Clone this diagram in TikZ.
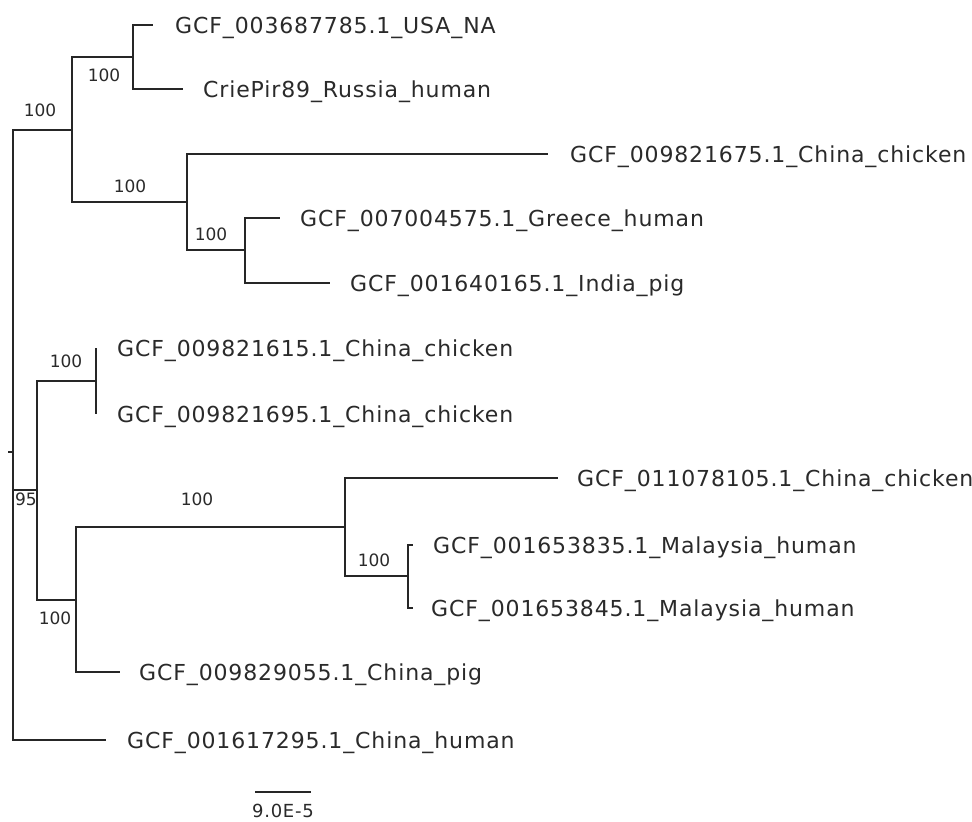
\documentclass[tikz,border=0pt]{standalone}
\usepackage{fontspec}
\setmainfont{DejaVu Sans}
\newfontfamily\taxfont{DejaVu Sans}[LetterSpace=4]
\usetikzlibrary{positioning}
\definecolor{labelgray}{HTML}{2A2A2A}

\begin{document}
\begin{tikzpicture}[
  x=1pt, y=-1pt,
  br/.style={line width=1.5pt, black!85},
  taxon/.style={inner sep=0pt, font=\taxfont\fontsize{22}{26}\selectfont, text=labelgray, yshift=-8pt},
  boot/.style={inner sep=0pt, font=\fontsize{17}{19}\selectfont, text=labelgray},
  scalelbl/.style={inner sep=0pt, font=\taxfont\fontsize{18}{20}\selectfont, text=labelgray}
]
  \fill[white] (0,0) rectangle (972,822);
  \useasboundingbox (0,0) rectangle (972,822);

  % internal nodes
  \coordinate (rt) at (8,452);
  \coordinate (r) at (13,452);
  \coordinate (nA) at (72,130);
  \coordinate (nA1) at (133,57);
  \coordinate (nA2) at (187,202);
  \coordinate (nA2b) at (245,250);
  \coordinate (nB) at (37,490);
  \coordinate (nB1) at (96,381);
  \coordinate (nB2) at (76,600);
  \coordinate (nB2a) at (345,527);
  \coordinate (nB2a2) at (408,576);

  % leaf ends
  \coordinate (l1) at (153,25);
  \coordinate (l2) at (183,89);
  \coordinate (l3) at (548,154);
  \coordinate (l4) at (280,218);
  \coordinate (l5) at (330,283);
  \coordinate (l6) at (96,348);
  \coordinate (l7) at (96,414);
  \coordinate (l8) at (558,478);
  \coordinate (l9) at (413,545);
  \coordinate (l10) at (413,608);
  \coordinate (l11) at (120,672);
  \coordinate (l12) at (106,740);

  % branches
  \draw[br] (rt) -- (r);
  \draw[br] (r) |- (nA);
  \draw[br] (r) |- (nB);
  \draw[br] (r) |- (l12);
  \draw[br] (nA) |- (nA1);
  \draw[br] (nA) |- (nA2);
  \draw[br] (nA1) |- (l1);
  \draw[br] (nA1) |- (l2);
  \draw[br] (nA2) |- (l3);
  \draw[br] (nA2) |- (nA2b);
  \draw[br] (nA2b) |- (l4);
  \draw[br] (nA2b) |- (l5);
  \draw[br] (nB) |- (nB1);
  \draw[br] (nB) |- (nB2);
  \draw[br] (nB1) |- (l6);
  \draw[br] (nB1) |- (l7);
  \draw[br] (nB2) |- (nB2a);
  \draw[br] (nB2) |- (l11);
  \draw[br] (nB2a) |- (l8);
  \draw[br] (nB2a) |- (nB2a2);
  \draw[br] (nB2a2) |- (l9);
  \draw[br] (nB2a2) |- (l10);

  % taxa
  \node[taxon, base right=22pt of l1] (t1) {GCF\_003687785.1\_USA\_NA};
  \node[taxon, base right=20pt of l2] (t2) {CriePir89\_Russia\_human};
  \node[taxon, base right=22pt of l3] (t3) {GCF\_009821675.1\_China\_chicken};
  \node[taxon, base right=20pt of l4] (t4) {GCF\_007004575.1\_Greece\_human};
  \node[taxon, base right=20pt of l5] (t5) {GCF\_001640165.1\_India\_pig};
  \node[taxon, base right=21pt of l6] (t6) {GCF\_009821615.1\_China\_chicken};
  \node[taxon, base right=21pt of l7] (t7) {GCF\_009821695.1\_China\_chicken};
  \node[taxon, base right=19pt of l8] (t8) {GCF\_011078105.1\_China\_chicken};
  \node[taxon, base right=20pt of l9] (t9) {GCF\_001653835.1\_Malaysia\_human};
  \node[taxon, base right=18pt of l10] (t10) {GCF\_001653845.1\_Malaysia\_human};
  \node[taxon, base right=19pt of l11] (t11) {GCF\_009829055.1\_China\_pig};
  \node[taxon, base right=21pt of l12] (t12) {GCF\_001617295.1\_China\_human};

  % bootstrap values
  \node[boot] (bA) at (40,110) {100};
  \node[boot] (bA1) at (104,75) {100};
  \node[boot] (bA2) at (130,186) {100};
  \node[boot] (bA2b) at (211,234) {100};
  \node[boot] (bB) at (26,499) {95};
  \node[boot] (bB1) at (66,361) {100};
  \node[boot] (bB2) at (55,618) {100};
  \node[boot] (bB2a) at (197,499) {100};
  \node[boot] (bB2a2) at (374,560) {100};

  % scale bar
  \coordinate (s0) at (255,792);
  \coordinate (s1) at (311,792);
  \draw[br] (s0) -- (s1);
  \node[scalelbl] (sl) at (283,811) {9.0E-5};
\end{tikzpicture}
\end{document}
